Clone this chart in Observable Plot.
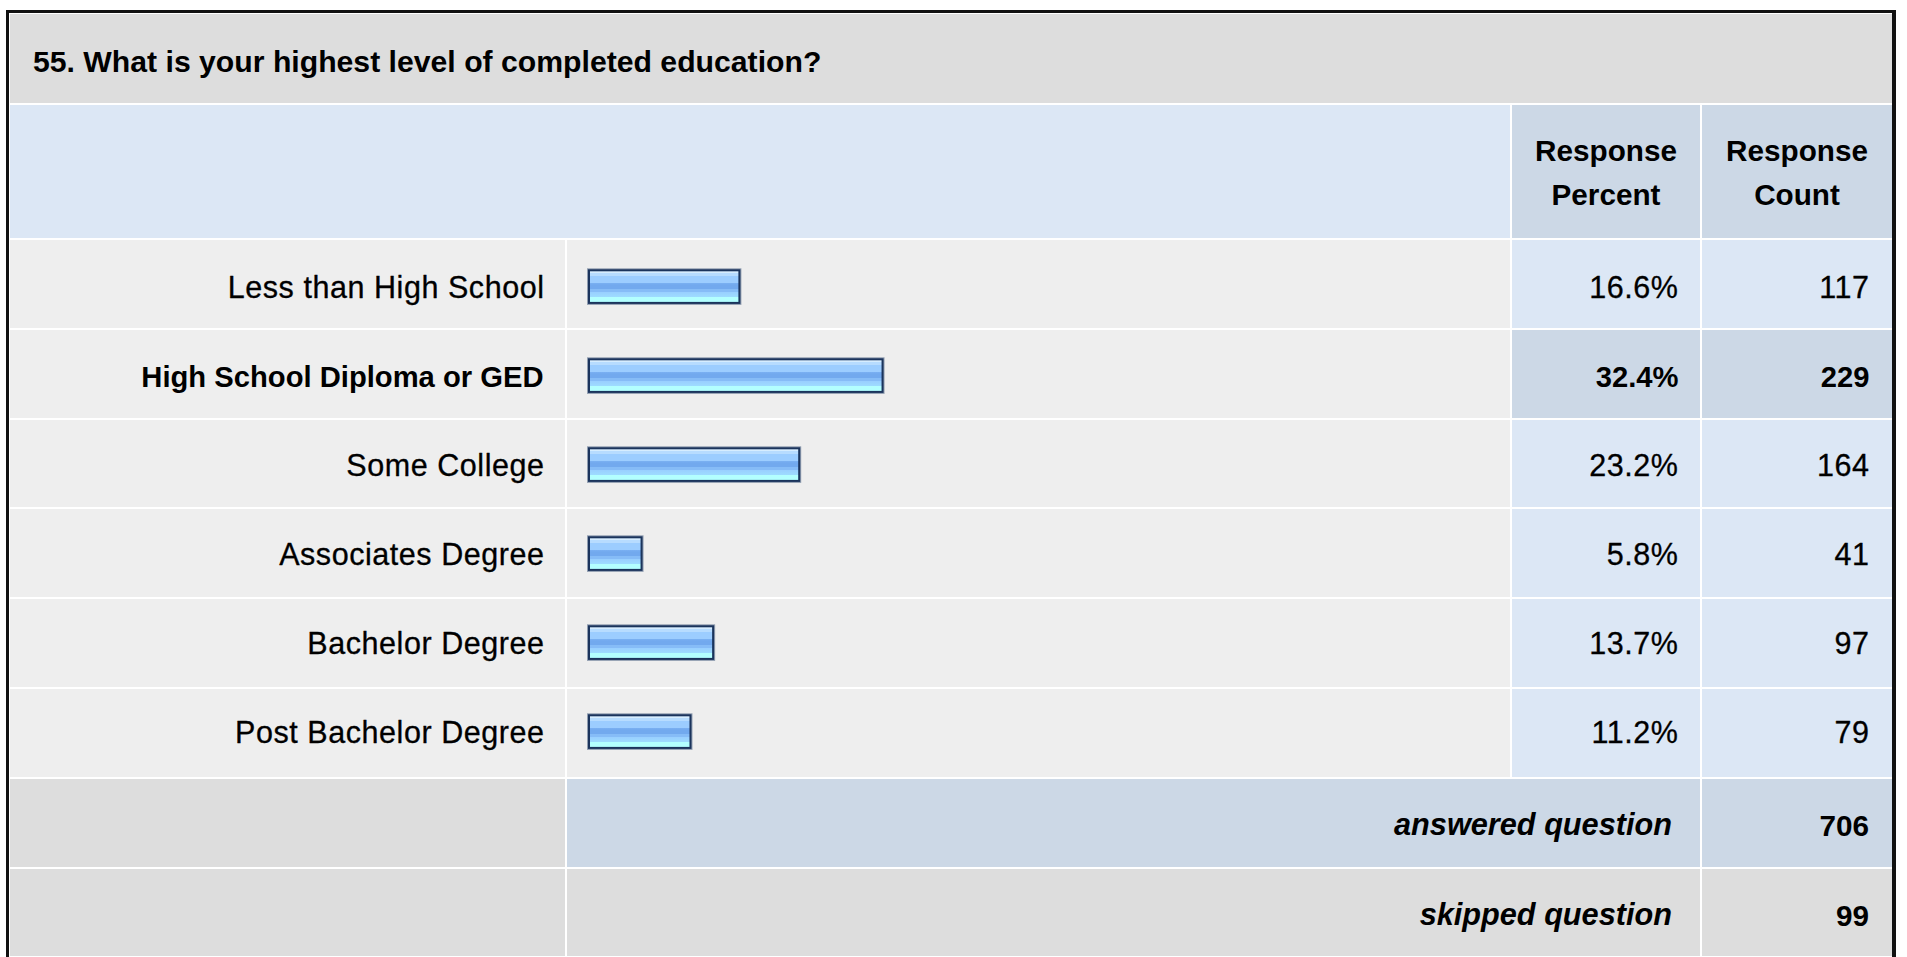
<!DOCTYPE html>
<html>
<head>
<meta charset="utf-8">
<script src="https://cdn.jsdelivr.net/npm/d3@7"></script>
<script src="https://cdn.jsdelivr.net/npm/@observablehq/plot@0.6"></script>
<style>
html, body { margin: 0; padding: 0; background: #fff; overflow: hidden; }
#page { position: relative; width: 1907px; height: 957px; overflow: hidden;
  font-family: "Liberation Sans", Arial, Helvetica, sans-serif; color: #000; }
.cell { position: absolute; }
.txt { position: absolute; white-space: nowrap; line-height: 1; }
#page svg { position: absolute; left: 0; top: 240px; }
#page svg text { letter-spacing: 0.55px; }
#page svg g[font-weight="bold"] text { letter-spacing: 0; }
</style>
</head>
<body>
<div id="page"></div>
<script>
// ---- data ----
const question = "55. What is your highest level of completed education?";
const headerPercent = ["Response", "Percent"];
const headerCount = ["Response", "Count"];
const categories = ["Less than High School", "High School Diploma or GED", "Some College",
  "Associates Degree", "Bachelor Degree", "Post Bachelor Degree"];
const percents = [16.6, 32.4, 23.2, 5.8, 13.7, 11.2];
const counts = [117, 229, 164, 41, 97, 79];
const footerLabels = ["answered question", "skipped question"];
const footerCounts = [706, 99];

// ---- layout ----
const page = document.getElementById("page");
const FONT = '"Liberation Sans", Arial, Helvetica, sans-serif';
const colA = [10, 565], colB = [567, 1510], colC = [1512, 1700], colD = [1702, 1892];
const rowTop0 = 240, rowStep = 89.8, gap = 2;
const C_GREY = "#dddddd", C_LIGHT = "#eeeeee", C_BLUE = "#dce7f5", C_BLUE2 = "#ccd8e6";

function box(x0, x1, y0, y1, bg) {
  const d = document.createElement("div");
  d.className = "cell";
  Object.assign(d.style, {left: x0 + "px", top: y0 + "px", width: (x1 - x0) + "px", height: (y1 - y0) + "px", background: bg});
  page.appendChild(d);
  return d;
}
function txt(str, x, baseline, size, {weight = "normal", style = "normal", align = "left"} = {}) {
  const d = document.createElement("div");
  d.className = "txt";
  d.textContent = str;
  Object.assign(d.style, {fontSize: size + "px", fontWeight: weight, fontStyle: style, top: (baseline - 0.8465 * size) + "px"});
  if (align === "left") d.style.left = x + "px";
  else if (align === "right") d.style.right = (1907 - x) + "px";
  else { d.style.left = x + "px"; d.style.transform = "translateX(-50%)"; }
  page.appendChild(d);
}

// outer border
const border = box(6, 1896, 10, 980, "#ffffff");
border.style.boxSizing = "border-box";
border.style.border = "3px solid #111";
border.style.borderRightWidth = "4px";

// title band
box(colA[0], colD[1], 14, 103, C_GREY);
txt(question, 33, 73, 30.2, {weight: "bold"});

// header band
box(colA[0], colB[1], 105, 238, C_BLUE);
box(colC[0], colC[1], 105, 238, C_BLUE2);
box(colD[0], colD[1], 105, 238, C_BLUE2);
const cC = (colC[0] + colC[1]) / 2, cD = (colD[0] + colD[1]) / 2;
txt(headerPercent[0], cC, 161, 29.7, {weight: "bold", align: "center"});
txt(headerPercent[1], cC, 205, 29.7, {weight: "bold", align: "center"});
txt(headerCount[0], cD, 161, 29.7, {weight: "bold", align: "center"});
txt(headerCount[1], cD, 205, 29.7, {weight: "bold", align: "center"});

// data row cell backgrounds
const maxCount = d3.max(counts);
categories.forEach((c, i) => {
  const y0 = rowTop0 + i * rowStep, y1 = y0 + rowStep - gap;
  const hi = counts[i] === maxCount;
  box(colA[0], colA[1], y0, y1, C_LIGHT);
  box(colB[0], colB[1], y0, y1, C_LIGHT);
  box(colC[0], colC[1], y0, y1, hi ? C_BLUE2 : C_BLUE);
  box(colD[0], colD[1], y0, y1, hi ? C_BLUE2 : C_BLUE);
});

// footer rows
footerLabels.forEach((lab, j) => {
  const i = categories.length + j;
  const y0 = rowTop0 + i * rowStep, y1 = Math.min(y0 + rowStep - gap, 956);
  const bg = j === 0 ? C_BLUE2 : C_GREY;
  box(colA[0], colA[1], y0, y1, C_GREY);
  box(colB[0], colC[1], y0, y1, bg);
  box(colD[0], colD[1], y0, y1, bg);
  const base = y0 + 57.5;
  txt(lab, 1672, base, 30.7, {weight: "bold", style: "italic", align: "right"});
  txt(String(footerCounts[j]), 1869, base, 29.7, {weight: "bold", align: "right"});
});

// ---- the chart (data rows) ----
const rows = categories.map((label, i) => ({label, percent: percents[i], count: counts[i]}));
const isTop = d => d.count === maxCount;
const H = Math.round(rowStep * categories.length);
const X0 = 589, X100 = 1495;
const reg = {fontSize: 30.5, fill: "#000", stroke: "#000", strokeWidth: 0.3};
const bold = {fontSize: 29.2, fontWeight: "bold", fill: "#000"};

const chart = Plot.plot({
  width: 1907,
  height: H,
  marginLeft: X0,
  marginRight: 1907 - X100,
  marginTop: 0,
  marginBottom: 0,
  x: {domain: [0, 100], axis: null},
  y: {type: "band", domain: categories, padding: 0, axis: null},
  style: {background: "transparent", fontFamily: FONT, color: "#000", overflow: "visible"},
  marks: [
    Plot.barX(rows, {x: "percent", y: "label", insetTop: 27.3, insetBottom: 29.1,
      fill: "none", stroke: "#7f8ea5", strokeWidth: 4, strokeOpacity: 0.85}),
    Plot.barX(rows, {x: "percent", y: "label", insetTop: 27.3, insetBottom: 29.1,
      fill: "url(#barGrad)", stroke: "#1b345c", strokeWidth: 2}),
    Plot.text(rows, {filter: d => !isTop(d), y: "label", text: "label", frameAnchor: "left",
      textAnchor: "end", dx: 544 - X0, dy: 0.5, ...reg}),
    Plot.text(rows, {filter: isTop, y: "label", text: "label", frameAnchor: "left",
      textAnchor: "end", dx: 543 - X0, dy: 0.5, ...bold}),
    Plot.text(rows, {filter: d => !isTop(d), y: "label", text: d => d.percent.toFixed(1) + "%", frameAnchor: "right",
      textAnchor: "end", dx: 1678 - X100, dy: 0.5, ...reg}),
    Plot.text(rows, {filter: isTop, y: "label", text: d => d.percent.toFixed(1) + "%", frameAnchor: "right",
      textAnchor: "end", dx: 1678 - X100, dy: 0.5, ...bold}),
    Plot.text(rows, {filter: d => !isTop(d), y: "label", text: d => String(d.count), frameAnchor: "right",
      textAnchor: "end", dx: 1869 - X100, dy: 0.5, ...reg}),
    Plot.text(rows, {filter: isTop, y: "label", text: d => String(d.count), frameAnchor: "right",
      textAnchor: "end", dx: 1869 - X100, dy: 0.5, ...bold})
  ]
});

// glossy bar gradient
const defs = d3.select(chart).insert("defs", ":first-child");
const grad = defs.append("linearGradient").attr("id", "barGrad")
  .attr("x1", 0).attr("y1", 0).attr("x2", 0).attr("y2", 1);
[
  [0.00, "#d6edff"], [0.08, "#d6edff"],
  [0.08, "#b7dcff"], [0.18, "#b7dcff"],
  [0.18, "#9ccdff"], [0.38, "#9ccdff"],
  [0.38, "#7cb2f3"], [0.45, "#72a9ee"], [0.58, "#72a9ee"],
  [0.58, "#86bcf7"], [0.68, "#86bcf7"],
  [0.68, "#99d0ff"], [0.82, "#9edcff"],
  [0.82, "#b3ffff"], [1.00, "#b3ffff"]
].forEach(([o, c]) => grad.append("stop").attr("offset", o).attr("stop-color", c));

page.appendChild(chart);
</script>
</body>
</html>
